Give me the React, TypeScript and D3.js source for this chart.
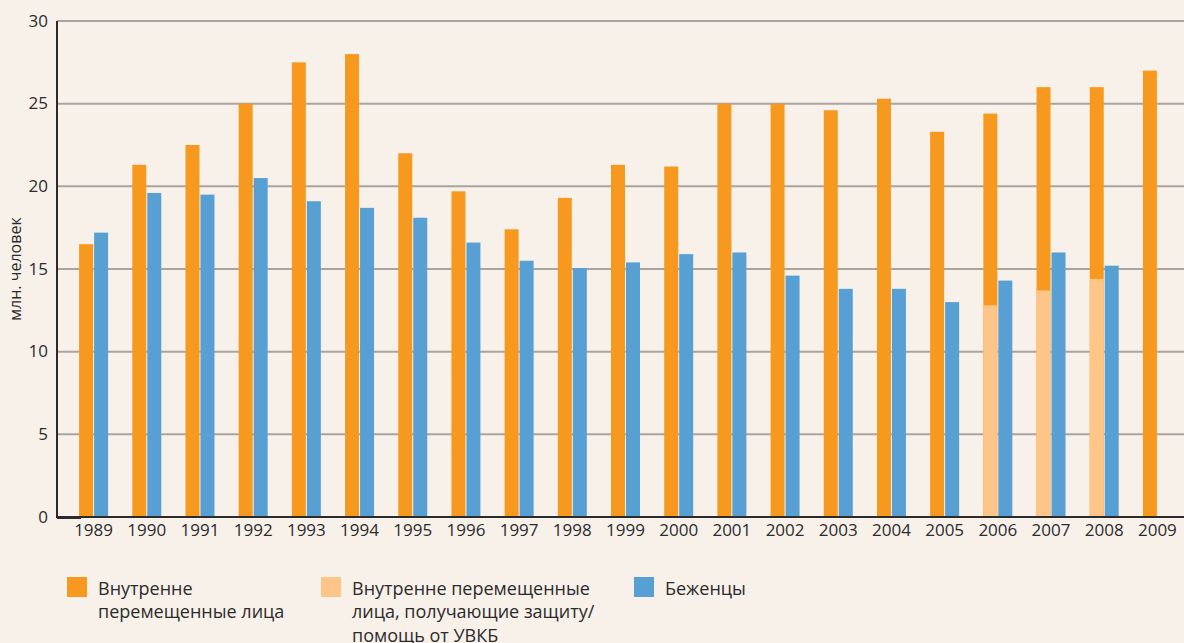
import React from 'react';
import * as d3 from 'd3';

const years = [
  '1989', '1990', '1991', '1992', '1993', '1994', '1995', '1996', '1997', '1998', '1999',
  '2000', '2001', '2002', '2003', '2004', '2005', '2006', '2007', '2008', '2009',
];
// internally displaced persons, total
const idpTotal = [
  16.5, 21.3, 22.5, 25.0, 27.5, 28.0, 22.0, 19.7, 17.4, 19.3, 21.3,
  21.2, 25.0, 25.0, 24.6, 25.3, 23.3, 24.4, 26.0, 26.0, 27.0,
];
// of which protected / assisted by UNHCR
const idpUnhcr = [
  null, null, null, null, null, null, null, null, null, null, null,
  null, null, null, null, null, null, 12.8, 13.7, 14.4, null,
];
const refugees = [
  17.2, 19.6, 19.5, 20.5, 19.1, 18.7, 18.1, 16.6, 15.5, 15.06, 15.4,
  15.9, 16.0, 14.6, 13.8, 13.8, 13.0, 14.3, 16.0, 15.2, null,
];
const yTicks = [0, 5, 10, 15, 20, 25, 30];
const legendItems = [
  { lines: ['Внутренне', 'перемещенные лица'], color: '#f8991f' },
  { lines: ['Внутренне перемещенные', 'лица, получающие защиту/', 'помощь от УВКБ'], color: '#fdc688' },
  { lines: ['Беженцы'], color: '#58a0d3' },
];

const W = 1184;
const H = 643;
const FONT = '"Open Sans", "Noto Sans", sans-serif';
const BG = '#f8f1ea';
const ORANGE = '#f8991f';
const LIGHT = '#fdc688';
const BLUE = '#58a0d3';
const INK = '#2b2b2b';

export default function App() {
  const axisX = 57;
  const x = d3.scaleBand<string>().domain(years).range([67, W]).padding(0);
  const y = d3.scaleLinear().domain([0, 30]).range([517, 21]);
  const barW = 14;
  const legendX = [67, 321, 634];

  return (
    <svg
      width={W}
      height={H}
      style={{ position: 'absolute', left: 0, top: 0, background: BG, fontFamily: FONT }}
    >
      <rect x={0} y={0} width={W} height={H} fill={BG} />

      {/* gridlines */}
      {yTicks.filter((t) => t > 0).map((t) => (
        <line key={t} x1={axisX} x2={W} y1={y(t)} y2={y(t)} stroke="#a8a5a1" strokeWidth={2} />
      ))}

      {/* bars */}
      {years.map((yr, i) => {
        const c = (x(yr) as number) + x.bandwidth() / 2;
        return (
          <g key={yr}>
            <rect x={c - 0.5 - barW} y={y(idpTotal[i])} width={barW} height={y(0) - y(idpTotal[i])} fill={ORANGE} />
            {idpUnhcr[i] != null && (
              <rect x={c - 0.5 - barW} y={y(idpUnhcr[i] as number)} width={barW}
                height={y(0) - y(idpUnhcr[i] as number)} fill={LIGHT} />
            )}
            {refugees[i] != null && (
              <rect x={c + 0.5} y={y(refugees[i] as number)} width={barW}
                height={y(0) - y(refugees[i] as number)} fill={BLUE} />
            )}
            <text x={c} y={536} textAnchor="middle" fontSize={17} fill={INK}>{yr}</text>
          </g>
        );
      })}

      {/* axes */}
      <line x1={axisX} x2={axisX} y1={y(30)} y2={y(0) + 1} stroke={INK} strokeWidth={2} />
      <line x1={axisX} x2={W} y1={y(0)} y2={y(0)} stroke={INK} strokeWidth={2} />
      <line x1={axisX} x2={81} y1={y(0) + 0.5} y2={y(0) + 0.5} stroke={INK} strokeWidth={3} />
      {yTicks.map((t) => (
        <text key={t} x={48} y={y(t) + 5.5} textAnchor="end" fontSize={17} fill={INK}>{t}</text>
      ))}
      <text transform={`translate(21,${y(15)}) rotate(-90)`} textAnchor="middle" fontSize={16} fill={INK}>
        млн. человек
      </text>

      {/* legend */}
      {legendItems.map((it, i) => (
        <g key={i} transform={`translate(${legendX[i]},577)`}>
          <rect x={0} y={0} width={20} height={20} fill={it.color} />
          {it.lines.map((ln, j) => (
            <text key={j} x={31} y={17.5 + j * 23.5} fontSize={18} fill={INK}>{ln}</text>
          ))}
        </g>
      ))}
    </svg>
  );
}
